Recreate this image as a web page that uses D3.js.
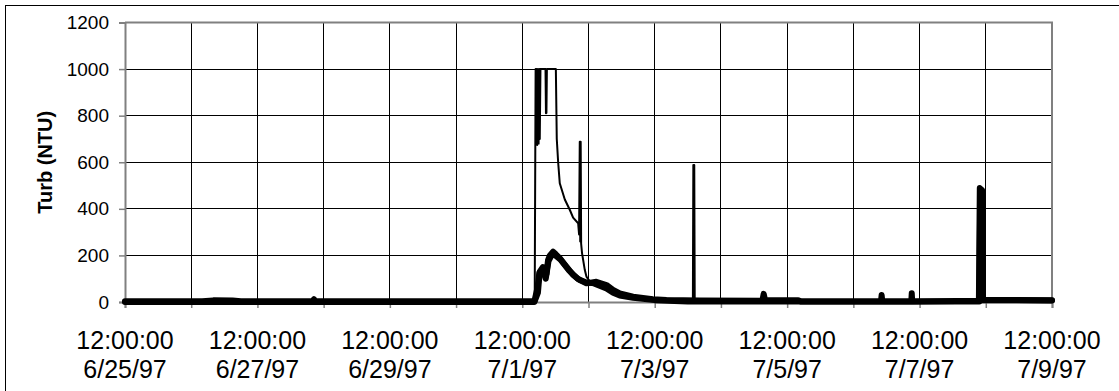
<!DOCTYPE html>
<html>
<head>
<meta charset="utf-8">
<script src="https://cdn.jsdelivr.net/npm/d3@7/dist/d3.min.js"></script>
<style>
  html, body { margin: 0; padding: 0; background: #fff; }
  svg { display: block; font-family: "Liberation Sans", Arial, sans-serif; }
</style>
</head>
<body>
<div id="chart"></div>
<script>
// turbidity record, 6/25/97 - 7/9/97
var timeRange = ["1997-06-25T12:00", "1997-07-09T12:00"];
var yTicks = [0, 200, 400, 600, 800, 1000, 1200];
var tickTimeLabel = "12:00:00";

// thin trace (clips at 1000 NTU)
var turbThin = [
  ["1997-06-25T12:00", 1], ["1997-07-01T16:30", 1], ["1997-07-01T16:50", 1000],
  ["1997-07-01T17:00", 690], ["1997-07-01T17:10", 1000], ["1997-07-01T17:25", 674],
  ["1997-07-01T17:40", 1000], ["1997-07-01T17:55", 680], ["1997-07-01T18:10", 1000],
  ["1997-07-01T18:20", 700], ["1997-07-01T18:35", 1000], ["1997-07-01T20:25", 1000],
  ["1997-07-01T20:35", 810], ["1997-07-01T20:45", 812], ["1997-07-01T20:55", 1000],
  ["1997-07-02T00:10", 1000], ["1997-07-02T00:30", 700], ["1997-07-02T01:00", 600],
  ["1997-07-02T01:35", 510], ["1997-07-02T03:25", 440], ["1997-07-02T05:15", 395],
  ["1997-07-02T06:25", 362], ["1997-07-02T08:15", 338], ["1997-07-02T08:35", 290],
  ["1997-07-02T08:50", 688], ["1997-07-02T09:00", 260], ["1997-07-02T09:10", 688],
  ["1997-07-02T09:20", 250], ["1997-07-02T09:40", 209], ["1997-07-02T10:40", 137],
  ["1997-07-02T11:15", 109], ["1997-07-02T12:30", 88], ["1997-07-02T16:00", 82],
  ["1997-07-02T20:00", 55], ["1997-07-03T00:00", 30], ["1997-07-03T06:00", 15],
  ["1997-07-03T14:00", 6], ["1997-07-04T01:50", 4], ["1997-07-04T02:00", 588],
  ["1997-07-04T02:10", 10], ["1997-07-04T02:20", 588], ["1997-07-04T02:30", 4],
  ["1997-07-09T12:00", 4]
];

// thick traces
var turbProbeA = [
  ["1997-06-25T12:00", 3], ["1997-06-26T16:00", 3], ["1997-06-26T20:00", 7],
  ["1997-06-27T03:00", 6], ["1997-06-27T06:00", 3], ["1997-06-28T08:00", 3],
  ["1997-06-28T08:30", 12], ["1997-06-28T09:00", 3], ["1997-07-01T16:30", 3],
  ["1997-07-01T17:40", 40], ["1997-07-01T18:20", 130], ["1997-07-01T19:30", 150],
  ["1997-07-01T20:45", 120], ["1997-07-01T21:20", 180], ["1997-07-01T22:00", 200],
  ["1997-07-01T23:10", 216], ["1997-07-02T00:10", 205], ["1997-07-02T01:35", 188],
  ["1997-07-02T04:00", 152], ["1997-07-02T06:25", 116], ["1997-07-02T08:50", 94],
  ["1997-07-02T11:15", 80], ["1997-07-02T14:50", 87], ["1997-07-02T18:30", 73],
  ["1997-07-02T20:55", 52], ["1997-07-02T23:20", 37], ["1997-07-03T04:10", 23],
  ["1997-07-03T11:20", 12], ["1997-07-03T16:15", 9], ["1997-07-04T04:20", 6],
  ["1997-07-05T03:00", 5], ["1997-07-05T03:30", 35], ["1997-07-05T04:00", 8],
  ["1997-07-05T16:00", 8], ["1997-07-05T17:00", 2], ["1997-07-06T22:00", 2],
  ["1997-07-06T22:15", 30], ["1997-07-06T22:30", 2], ["1997-07-07T09:00", 2],
  ["1997-07-07T09:10", 38], ["1997-07-07T09:20", 2], ["1997-07-08T09:30", 5],
  ["1997-07-08T09:50", 489], ["1997-07-08T10:40", 480], ["1997-07-08T11:00", 10],
  ["1997-07-09T12:00", 8]
];

var turbProbeB = [
  ["1997-06-25T12:00", 0], ["1997-07-01T16:20", 0], ["1997-07-01T17:30", 60],
  ["1997-07-01T18:10", 125], ["1997-07-01T19:30", 135], ["1997-07-01T20:30", 100],
  ["1997-07-01T21:30", 175], ["1997-07-01T23:00", 210], ["1997-07-02T02:00", 180],
  ["1997-07-02T05:00", 135], ["1997-07-02T08:00", 100], ["1997-07-02T11:00", 85],
  ["1997-07-02T14:00", 80], ["1997-07-02T18:30", 58], ["1997-07-02T20:55", 40],
  ["1997-07-02T23:20", 28], ["1997-07-03T04:10", 18], ["1997-07-03T12:00", 8],
  ["1997-07-04T00:00", 2], ["1997-07-08T09:40", 2], ["1997-07-08T10:00", 470],
  ["1997-07-08T10:30", 470], ["1997-07-08T10:50", 8], ["1997-07-09T12:00", 6]
];

var width = 1119,
    height = 391,
    margin = { left: 125, right: 1052, top: 22.5, bottom: 302 };

var parseTime = d3.timeParse("%Y-%m-%dT%H:%M");
var fmtDate = function(d) {
  return (d.getMonth() + 1) + "/" + d.getDate() + "/" + String(d.getFullYear()).slice(2);
};

var x = d3.scaleTime()
  .domain(timeRange.map(parseTime))
  .range([margin.left, margin.right]);
var y = d3.scaleLinear()
  .domain([0, 1200])
  .range([margin.bottom, margin.top]);

// one tick per day at noon
var dayTicks = d3.range(0, 15).map(function(i) {
  return d3.timeDay.offset(x.domain()[0], i);
});

var svg = d3.select("#chart").append("svg")
  .attr("width", width)
  .attr("height", height);

// outer chart frame
svg.append("rect")
  .attr("x", 5.5).attr("y", 5.5)
  .attr("width", 1200).attr("height", 500)
  .attr("fill", "#fff").attr("stroke", "#000").attr("stroke-width", 1);

// gridlines
var grid = svg.append("g").attr("shape-rendering", "crispEdges");
grid.selectAll(".hgrid")
  .data(yTicks.filter(function(v) { return v > 0 && v < 1200; }))
  .enter().append("line")
    .attr("x1", margin.left).attr("x2", margin.right)
    .attr("y1", function(d) { return y(d); })
    .attr("y2", function(d) { return y(d); })
    .attr("stroke", "#000").attr("stroke-width", 1);
grid.selectAll(".vgrid")
  .data(dayTicks.slice(1, -1))
  .enter().append("line")
    .attr("x1", function(d) { return x(d); })
    .attr("x2", function(d) { return x(d); })
    .attr("y1", margin.top).attr("y2", margin.bottom)
    .attr("stroke", "#000").attr("stroke-width", 1);

// plot border (top, right)
svg.append("path")
  .attr("d", "M" + margin.left + "," + margin.top + "H" + margin.right + "V" + margin.bottom)
  .attr("fill", "none").attr("stroke", "#808080").attr("stroke-width", 2);

// y axis
var yAxis = svg.append("g")
  .attr("transform", "translate(" + margin.left + ",0)")
  .call(d3.axisLeft(y).tickValues(yTicks).tickSize(6).tickPadding(10).tickFormat(d3.format("d")));
yAxis.select(".domain").attr("stroke", "#808080").attr("stroke-width", 2);
yAxis.selectAll(".tick line").attr("stroke", "#808080").attr("stroke-width", 1.5);
yAxis.selectAll(".tick text")
  .attr("font-size", 19).attr("fill", "#000")
  .attr("font-family", "Liberation Sans, Arial, sans-serif");

// x axis
var xAxis = svg.append("g")
  .attr("transform", "translate(0," + margin.bottom + ")")
  .call(d3.axisBottom(x).tickValues(dayTicks).tickSize(6).tickFormat(""));
xAxis.select(".domain").attr("stroke", "#808080").attr("stroke-width", 2);
xAxis.selectAll(".tick line").attr("stroke", "#808080").attr("stroke-width", 1.5);

var labels = svg.append("g")
  .attr("font-size", 25)
  .attr("text-anchor", "middle")
  .attr("fill", "#000");
labels.selectAll("text")
  .data(dayTicks.filter(function(d, i) { return i % 2 === 0; }))
  .enter().append("text")
    .attr("transform", function(d) { return "translate(" + x(d) + ",0)"; })
    .each(function(d) {
      var t = d3.select(this);
      t.append("tspan").attr("x", 0).attr("y", 349).text(tickTimeLabel);
      t.append("tspan").attr("x", 0).attr("y", 378).text(fmtDate(d));
    });

// y title
svg.append("text")
  .attr("transform", "translate(52," + ((margin.top + margin.bottom) / 2) + ") rotate(-90)")
  .attr("text-anchor", "middle")
  .attr("font-size", 20)
  .attr("font-weight", "bold")
  .text("Turb (NTU)");

// data lines
var line = d3.line()
  .x(function(d) { return x(parseTime(d[0])); })
  .y(function(d) { return y(d[1]); });

svg.append("path").datum(turbProbeB)
  .attr("d", line).attr("fill", "none").attr("stroke", "#000")
  .attr("stroke-width", 6).attr("stroke-linejoin", "round").attr("stroke-linecap", "round");
svg.append("path").datum(turbProbeA)
  .attr("d", line).attr("fill", "none").attr("stroke", "#000")
  .attr("stroke-width", 6).attr("stroke-linejoin", "round").attr("stroke-linecap", "round");
svg.append("path").datum(turbThin)
  .attr("d", line).attr("fill", "none").attr("stroke", "#000")
  .attr("stroke-width", 2).attr("stroke-linejoin", "round");
</script>
</body>
</html>
